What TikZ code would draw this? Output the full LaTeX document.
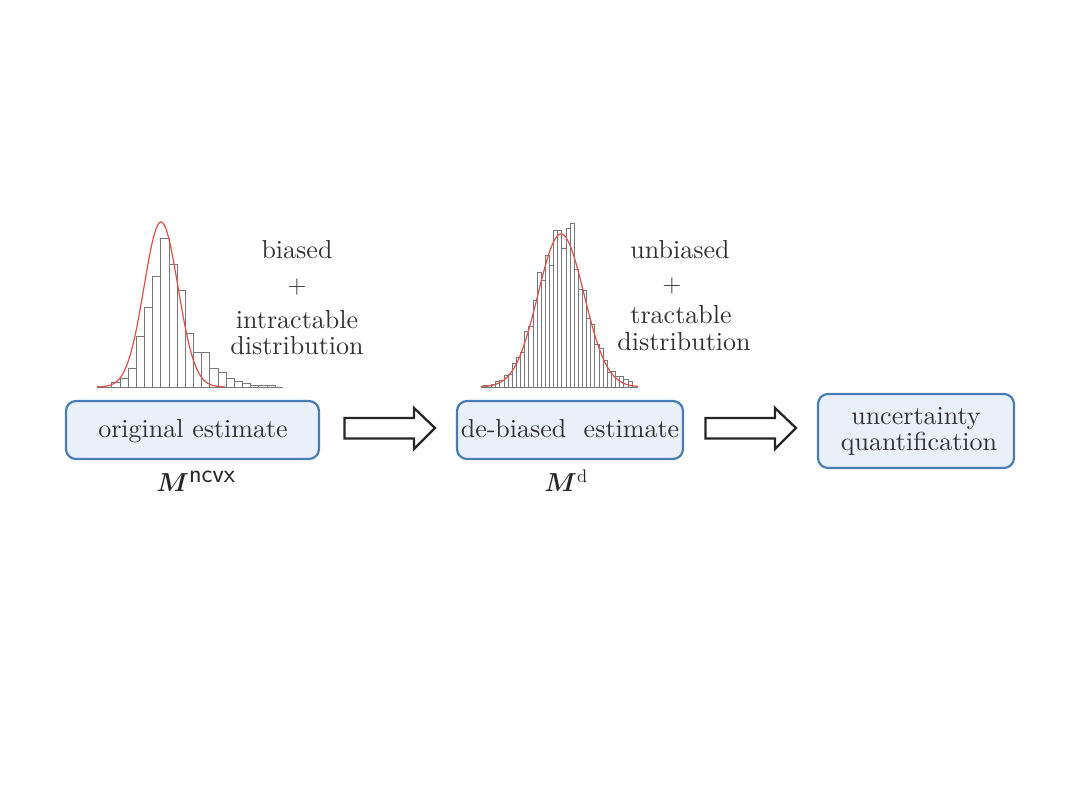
\RequirePackage{fix-cm}
\documentclass[tikz,border=0pt]{standalone}
\usepackage{fontspec}
\setmainfont{lmroman10-regular.otf}
\usepackage{bm}
\definecolor{boxfill}{RGB}{233,240,249}
\definecolor{boxline}{RGB}{74,124,182}
\definecolor{curvered}{RGB}{226,80,74}
\definecolor{txt}{RGB}{50,50,50}
\definecolor{barline}{RGB}{120,120,120}
\tikzset{
  estbox/.style={draw=boxline, fill=boxfill, line width=2.2pt, rounded corners=10pt},
  lbl/.style={text=txt, font=\fontsize{26}{27}\selectfont, inner sep=0pt, anchor=base},
  bar/.style={draw=barline, line width=0.7pt},
  gauss/.style={draw=curvered, line width=1.2pt},
  blockarrow/.style={draw=black!85, line width=2.3pt, fill=white, line join=miter},
}
\begin{document}
\begin{tikzpicture}[x=1pt,y=-1pt]
\useasboundingbox (0,0) rectangle (1080,810);
% ---------- histogram 1 ----------
\draw[barline, line width=0.8pt] (97,387) -- (283,387);
\foreach \h [count=\i from 0] in {4.3,9,19,50.3,80,111,149,123,97,54,35,35,19,15,9,6,4,2,1.5,1.5}{
  \draw[bar] (111.7+8.17*\i,387) rectangle ++(8.17,-\h);
}
\draw[gauss] plot[domain=97:225, samples=120, smooth] (\x,{387-165*exp(-((\x-161)^2)/578)});
% ---------- histogram 2 ----------
\draw[barline, line width=0.8pt] (481,387) -- (638,387);
\foreach \d [count=\i from 0] in {1,0.5,1,2,1,3,-1,4,2,-3,5,-4,6,17,-7,3,-19,8,4,-13,13,28,-5,-10,6,-6,4,-3,5,2,-2,4,3,6,5,4}{
  \pgfmathsetmacro\c{485.4+4.13*\i}
  \pgfmathsetmacro\h{max(0.8,153*exp(-((\c-561)^2)/1058)+\d)}
  \draw[bar] (483.3+4.13*\i,387) rectangle ++(4.13,-\h);
}
\draw[gauss] plot[domain=481:638, samples=150, smooth] (\x,{387-153*exp(-((\x-561)^2)/1058)});
% ---------- side texts ----------
\node[lbl] (b1) at (297,258.5) {biased};
\node[lbl, anchor=center] (p1) at (297,287.3) {$+$};
\node[lbl] (t1) at (297,328.3) {intractable};
\node[lbl] (d1) at (297,355) {distribution};
\node[lbl] (b2) at (680,258.5) {unbiased};
\node[lbl, anchor=center] (p2) at (672,286.5) {$+$};
\node[lbl] (t2) at (681,323.5) {tractable};
\node[lbl] (d2) at (684,351) {distribution};
% ---------- boxes ----------
\node[estbox, minimum width=253pt, minimum height=58pt] (orig) at (192.5,430) {};
\node[lbl] (origt) at (193,437.3) {original estimate};
\node[estbox, minimum width=226pt, minimum height=58pt] (deb) at (570,430) {};
\node[lbl] (debt) at (570,437.3) {de-biased\ \ estimate};
\node[estbox, minimum width=196pt, minimum height=74pt] (uq) at (916,431) {};
\node[lbl] (uqt1) at (916,424.3) {uncertainty};
\node[lbl] (uqt2) at (919,450.3) {quantification};
% ---------- labels ----------
\node[lbl, text=black!85] (m1) at (196,492) {$\bm{M}^{\textsf{ncvx}}$};
\node[lbl, text=black!85] (m2) at (566,492) {$\bm{M}^{\mathrm{d}}$};
% ---------- block arrows ----------
\draw[blockarrow] (344.5,418) -- (414,418) -- (414,408) -- (435,428) -- (414,449) -- (414,438.5) -- (344.5,438.5) -- cycle;
\draw[blockarrow] (705.5,418) -- (775,418) -- (775,408) -- (796,428) -- (775,449) -- (775,438.5) -- (705.5,438.5) -- cycle;
\end{tikzpicture}
\end{document}
